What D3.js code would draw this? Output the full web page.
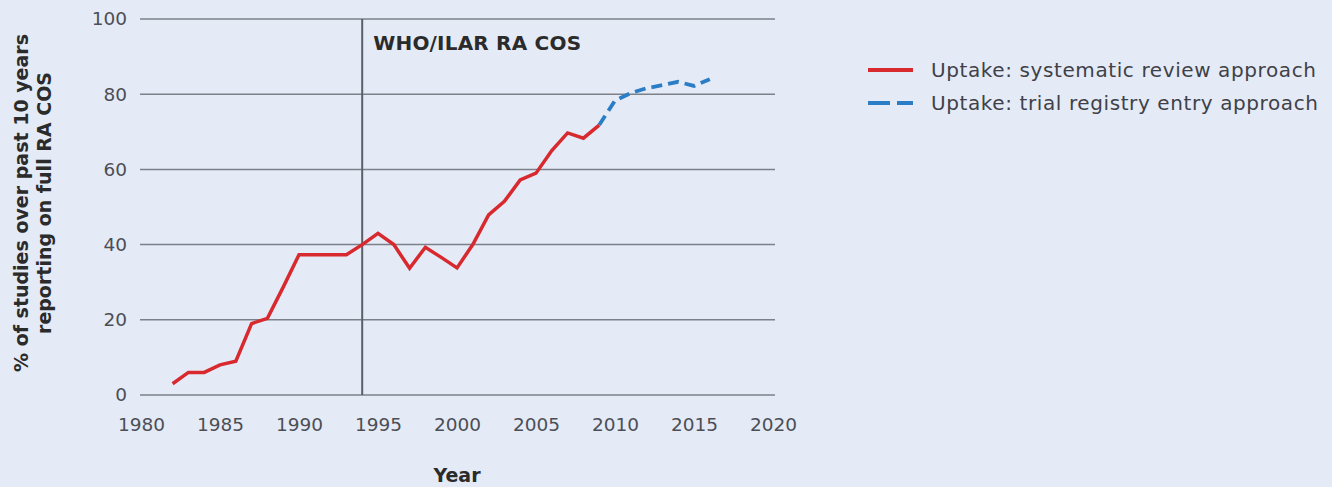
<!DOCTYPE html>
<html>
<head>
<meta charset="utf-8">
<script src="https://cdn.jsdelivr.net/npm/d3@7"></script>
<style>
    body { margin: 0; background: #e4ebf7; }
    svg { display: block; font-family: "DejaVu Sans", sans-serif; }
    .tick text { fill: #4c4e55; font-size: 18.5px; font-family: "DejaVu Sans", sans-serif; }
</style>
</head>
<body>
<div id="chart"></div>
<script>
// systematic review approach
var reviewYears = [1982, 1983, 1984, 1985, 1986, 1987, 1988, 1989, 1990, 1991, 1992, 1993,
    1994, 1995, 1996, 1997, 1998, 1999, 2000, 2001, 2002, 2003, 2004, 2005, 2006, 2007, 2008, 2009];
var reviewValues = [3, 6, 6, 8, 9, 19, 20.4, 28.7, 37.3, 37.3, 37.3, 37.3,
    40, 43, 40, 33.7, 39.3, 36.6, 33.8, 40, 47.9, 51.5, 57.2, 59, 65, 69.7, 68.3, 71.8];

// trial registry entry approach
var registryYears = [2009, 2010, 2011, 2012, 2013, 2014, 2015, 2016];
var registryValues = [71.8, 78.3, 80.3, 81.6, 82.4, 83.3, 82.2, 84];

var xTicks = [1980, 1985, 1990, 1995, 2000, 2005, 2010, 2015, 2020];
var yTicks = [0, 20, 40, 60, 80, 100];
var markerYear = 1994;
var legendLabels = ["Uptake: systematic review approach", "Uptake: trial registry entry approach"];

var width = 1332, height = 487;
var margin = {top: 19, left: 141, right: 559, bottom: 92};
var w = width - margin.left - margin.right,
    h = height - margin.top - margin.bottom;

var svg = d3.select("#chart").append("svg")
    .attr("width", width)
    .attr("height", height);

var main = svg.append("g")
    .attr("transform", "translate(" + margin.left + "," + margin.top + ")");

var x = d3.scaleLinear().domain([1980, 2020]).range([0, w]);
var y = d3.scaleLinear().domain([0, 100]).range([h, 0]);

// gridlines
main.append("g")
    .selectAll("line")
    .data(yTicks)
    .enter().append("line")
    .attr("x1", -1)
    .attr("x2", w + 2)
    .attr("y1", function (d) { return y(d); })
    .attr("y2", function (d) { return y(d); })
    .attr("stroke", "#7c8088")
    .attr("stroke-width", 1.5);

var yAxis = main.append("g")
    .call(d3.axisLeft(y).tickValues(yTicks).tickSize(0).tickPadding(14));
yAxis.select(".domain").remove();

var xAxis = main.append("g")
    .attr("transform", "translate(0," + h + ")")
    .call(d3.axisBottom(x).tickValues(xTicks).tickFormat(d3.format("d")).tickSize(0).tickPadding(30));
xAxis.select(".domain").remove();
xAxis.selectAll(".tick text").attr("dy", "0.32em");

// WHO/ILAR marker
main.append("line")
    .attr("x1", x(markerYear))
    .attr("x2", x(markerYear))
    .attr("y1", y(100))
    .attr("y2", y(0))
    .attr("stroke", "#5a5e66")
    .attr("stroke-width", 2);

main.append("text")
    .attr("x", x(markerYear) + 11)
    .attr("y", 31)
    .attr("fill", "#2b2b2b")
    .attr("font-size", "20px")
    .attr("font-weight", "bold")
    .attr("letter-spacing", "0.2px")
    .text("WHO/ILAR RA COS");

var line = d3.line()
    .x(function (d) { return x(d[0]); })
    .y(function (d) { return y(d[1]); });

main.append("path")
    .datum(d3.zip(registryYears, registryValues))
    .attr("d", line)
    .attr("fill", "none")
    .attr("stroke", "#2b7dc6")
    .attr("stroke-width", 3.8)
    .attr("stroke-dasharray", "11,6");

main.append("path")
    .datum(d3.zip(reviewYears, reviewValues))
    .attr("d", line)
    .attr("fill", "none")
    .attr("stroke", "#d8292f")
    .attr("stroke-width", 3.5);

// axis titles
svg.append("text")
    .attr("x", margin.left + x(2000))
    .attr("y", 482)
    .attr("text-anchor", "middle")
    .attr("fill", "#2b2b2b")
    .attr("font-size", "19px")
    .attr("font-weight", "bold")
    .text("Year");

var yTitle = svg.append("text")
    .attr("transform", "translate(28,203) rotate(-90)")
    .attr("text-anchor", "middle")
    .attr("fill", "#2b2b2b")
    .attr("font-size", "19px")
    .attr("font-weight", "bold");
yTitle.append("tspan").attr("x", 0).attr("dy", 0).text("% of studies over past 10 years");
yTitle.append("tspan").attr("x", 0).attr("dy", 23).text("reporting on full RA COS");

// legend
var legend = svg.append("g").attr("transform", "translate(868,70)");
var colors = ["#d8292f", "#2b7dc6"];
var dashes = [null, "22,7"];
legendLabels.forEach(function (label, i) {
    var row = legend.append("g").attr("transform", "translate(0," + (i * 33) + ")");
    row.append("line")
        .attr("x1", 0).attr("x2", 45)
        .attr("stroke", colors[i])
        .attr("stroke-width", 4)
        .attr("stroke-dasharray", dashes[i]);
    row.append("text")
        .attr("x", 63)
        .attr("dy", "0.35em")
        .attr("fill", "#3f4147")
        .attr("font-size", "20px")
        .attr("letter-spacing", "0.6px")
        .text(label);
});
</script>
</body>
</html>
